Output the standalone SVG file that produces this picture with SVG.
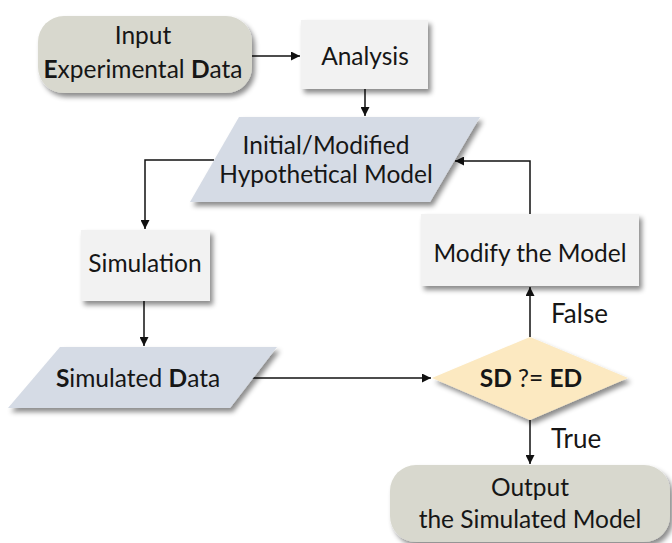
<svg xmlns="http://www.w3.org/2000/svg" width="672" height="543" viewBox="0 0 672 543">
  <defs>
    <filter id="shadow" x="-20%" y="-20%" width="140%" height="150%">
      <feDropShadow dx="3" dy="4" stdDeviation="2.5" flood-color="#000" flood-opacity="0.45"/>
    </filter>
    <marker id="arrow" viewBox="0 0 10 10" refX="10" refY="5" markerWidth="9" markerHeight="9" markerUnits="userSpaceOnUse" orient="auto">
      <path d="M0,0 L10,5 L0,10 z" fill="#111"/>
    </marker>
    <style>
      text { font-family: Lato, "Open Sans", "Liberation Sans", sans-serif; font-size: 24.5px; fill: #161616; text-anchor: middle; }
      .b { font-weight: bold; }
      .terminal { fill: #d8d8ce; filter: url(#shadow); }
      .process { fill: #f2f2f2; filter: url(#shadow); }
      .io { fill: #d5dbe5; filter: url(#shadow); }
      .decision { fill: #fce9c1; filter: url(#shadow); }
      .conn path { fill: none; stroke: #111; stroke-width: 1.5; marker-end: url(#arrow); }
      .lbl { text-anchor: start; font-size: 26px; }
    </style>
  </defs>

  <rect width="672" height="543" fill="#ffffff"/>

  <!-- connectors -->
  <g id="connectors" class="conn">
    <path d="M252,56 H300"/>
    <path d="M365,89 V116"/>
    <path d="M214,160 H145 V229"/>
    <path d="M144,301 V346"/>
    <path d="M250,378 H431"/>
    <path d="M530,337 V287"/>
    <path d="M530,214 V161 H455"/>
    <path d="M530,420 V464"/>
  </g>

  <g id="input">
    <rect class="terminal" x="38" y="16" width="214" height="77" rx="26"/>
    <text x="143" y="44">Input</text>
    <text x="143" y="78"><tspan class="b">E</tspan>xperimental <tspan class="b">D</tspan>ata</text>
  </g>

  <g id="analysis">
    <rect class="process" x="301" y="20" width="127" height="69"/>
    <text x="365" y="65">Analysis</text>
  </g>

  <g id="model">
    <polygon class="io" points="239,117 480,117 430,202 190,202"/>
    <text x="326" y="154">Initial/Modified</text>
    <text x="326" y="183">Hypothetical Model</text>
  </g>

  <g id="simulation">
    <rect class="process" x="81" y="230" width="129" height="71"/>
    <text x="145" y="272">Simulation</text>
  </g>

  <g id="simulated-data">
    <polygon class="io" points="60,347 277,347 230,408 8,408"/>
    <text x="138" y="387"><tspan class="b">S</tspan>imulated <tspan class="b">D</tspan>ata</text>
  </g>

  <g id="modify">
    <rect class="process" x="421" y="214" width="218" height="72"/>
    <text x="530" y="262">Modify the Model</text>
  </g>

  <g id="decision">
    <polygon class="decision" points="530,337 628,378 530,420 432,378"/>
    <text x="531" y="387"><tspan class="b">SD</tspan> ?= <tspan class="b">ED</tspan></text>
  </g>

  <g id="output">
    <rect class="terminal" x="390" y="465" width="280" height="77" rx="26"/>
    <text x="530" y="496">Output</text>
    <text x="530" y="528">the Simulated Model</text>
  </g>

  <g id="labels">
    <text class="lbl" x="551" y="323">False</text>
    <text class="lbl" x="551" y="448">True</text>
  </g>
</svg>
